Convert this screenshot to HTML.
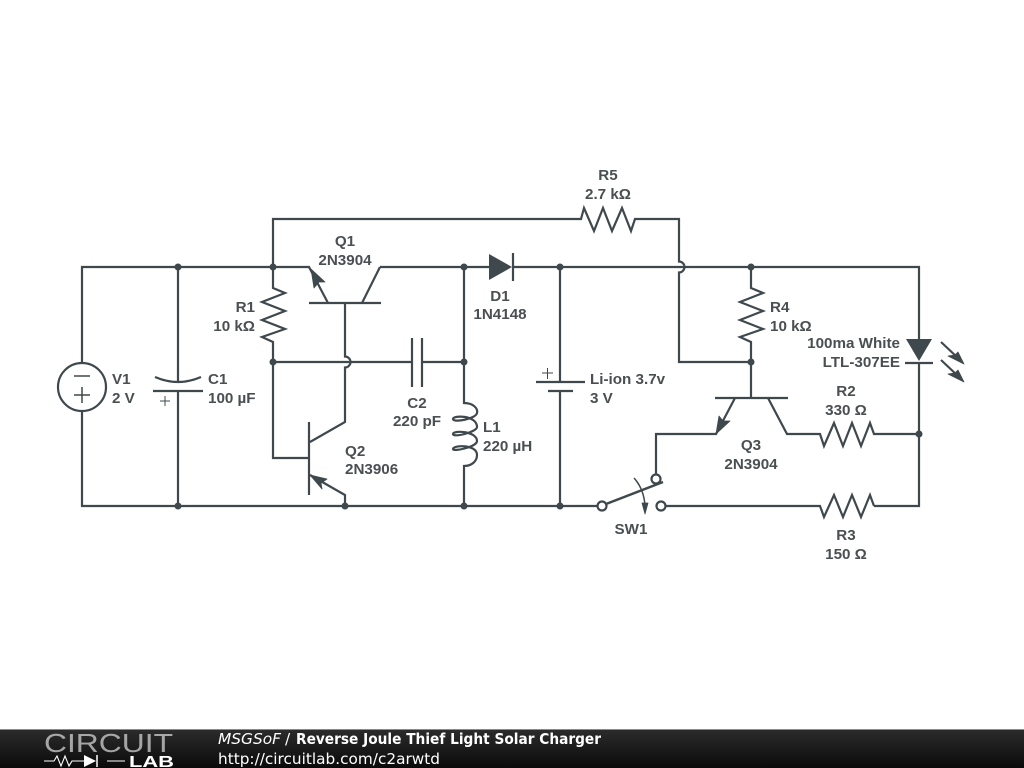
<!DOCTYPE html>
<html><head><meta charset="utf-8"><style>
html,body{margin:0;padding:0;background:#fff;width:1024px;height:768px;overflow:hidden}
svg{display:block}
.w{fill:none;stroke:#3f484c;stroke-width:2.2;stroke-linejoin:miter}
.t{font-family:"Liberation Sans",sans-serif;font-size:15.2px;font-weight:bold;fill:#4a4f52}
.m{text-anchor:middle}.e{text-anchor:end}
.f{font-family:"DejaVu Sans",sans-serif;font-size:15.3px;fill:#fff}
</style></head><body>
<svg width="1024" height="768" viewBox="0 0 1024 768" xmlns="http://www.w3.org/2000/svg">
<defs><linearGradient id="g" x1="0" y1="0" x2="0" y2="1"><stop offset="0" stop-color="#2c2c2c"/><stop offset="1" stop-color="#0a0a0a"/></linearGradient></defs>
<g class="w">
<!-- main rails -->
<path d="M82 363V267H309L328 303"/>
<path d="M82 411V506H598"/>
<path d="M380 267H489M513 267H919V339M919 363V506H874"/>
<!-- C1 -->
<path d="M178 267V383M178 391V506M155 377Q178 387 201 377M153 391H203"/>
<path d="M160 401H170M165 396V406" stroke-width="1"/>
<!-- V1 -->
<circle cx="82" cy="387" r="24"/>
<path d="M74 376H90M74 395H90M82 387V403" stroke-width="1.500"/>
<!-- R1 -->
<path d="M273 267V288L285 293L262 302L285 311L262 320L285 329L262 337L273 342V362"/>
<path d="M273 267V219H581L584 208L594 231L603 208L612 231L622 208L631 231L635 219H679V261.500A5.500 5.500 0 0 1 679 272.500V362H751"/>
<!-- Q1 -->
<path d="M309 303H381M362 303L380 267"/>
<path d="M345 303V356.500A5.500 5.500 0 0 1 345 367.500V422L310 442"/>
<!-- Q2 -->
<path d="M309 422V495M273 362V458H309M310 475L345 495V506"/>
<path d="M273 362H412M422 362H464M412 338V387M422 338V387"/>
<!-- L1 -->
<path d="M464 267V403C474 403 478 409 477 413C476 419 453 423 453 419C453 415 477 415 477 427C477 432 453 438 453 434C453 430 477 431 477 441C477 447 453 452 453 449C453 445 477 444 477 455C477 461 472 466 464 466V506"/>
<!-- D1 -->
<path d="M513 253V281"/>
<!-- Battery -->
<path d="M560 267V382M560 391V506M536 382H585M548 391H573"/>
<path d="M542 373H553M547.500 368V379" stroke-width="1"/>
<!-- SW1 -->
<circle cx="602" cy="506" r="4.500"/><circle cx="661" cy="506" r="4.500"/><circle cx="656" cy="479" r="4.500"/>
<path d="M606 504L663 482" stroke-width="2.500"/>
<path d="M656 474V434H716L735 398M666 506H820L824 517L834 495L843 517L852 495L861 517L870 495L874 506"/>
<path d="M634 478Q644 489 645 506" stroke-width="1.500"/>
<!-- Q3 / R4 -->
<path d="M715 398H788M751 267V288L763 293L740 302L763 311L740 320L763 329L740 337L751 342V398"/>
<path d="M768 398L787 434H820L824 446L834 423L843 446L852 423L861 446L870 423L874 434H919"/>
<!-- LED -->
<path d="M905 363H933M941 342L958 358M941 360L958 376"/>
</g>
<g fill="#3f484c">
<path d="M489 254V280L512 267Z"/>
<path d="M906 339H932L919 361Z"/>
<g stroke="#3f484c" stroke-width="0.800" stroke-linejoin="round">
<path d="M311 269L325 282L319 282L314 288Z"/>
<path d="M310 475L327 479L321 483L322 489Z"/>
<path d="M716 434L719 416L723 421L730 421Z"/>
<path d="M645 514L642 503H648Z"/>
<path d="M964 364L948 356L955 355L958 352Z"/>
<path d="M964 382L948 374L955 373L958 370Z"/>
</g>
<circle cx="178" cy="267" r="3.500"/><circle cx="273" cy="267" r="3.500"/><circle cx="464" cy="267" r="3.500"/><circle cx="560" cy="267" r="3.500"/><circle cx="751" cy="267" r="3.500"/>
<circle cx="178" cy="506" r="3.500"/><circle cx="345" cy="506" r="3.500"/><circle cx="464" cy="506" r="3.500"/><circle cx="560" cy="506" r="3.500"/>
<circle cx="273" cy="362" r="3.500"/><circle cx="464" cy="362" r="3.500"/><circle cx="751" cy="362" r="3.500"/><circle cx="919" cy="434" r="3.500"/>
</g>
<g class="t">
<text class="m" x="345" y="246">Q1</text><text class="m" x="345" y="265">2N3904</text>
<text class="e" x="255" y="312">R1</text><text class="e" x="255" y="331">10 kΩ</text>
<text x="112" y="384">V1</text><text x="112" y="403">2 V</text>
<text x="208" y="384">C1</text><text x="208" y="403">100 µF</text>
<text x="345" y="456">Q2</text><text x="345" y="474">2N3906</text>
<text class="m" x="500" y="301">D1</text><text class="m" x="500" y="319">1N4148</text>
<text class="m" x="417" y="408">C2</text><text class="m" x="417" y="426">220 pF</text>
<text x="483" y="432">L1</text><text x="483" y="451">220 µH</text>
<text x="590" y="384">Li-ion 3.7v</text><text x="590" y="403">3 V</text>
<text class="m" x="631" y="534">SW1</text>
<text x="770" y="312">R4</text><text x="770" y="331">10 kΩ</text>
<text class="e" x="900" y="348">100ma White</text><text class="e" x="900" y="367">LTL-307EE</text>
<text class="m" x="846" y="396">R2</text><text class="m" x="846" y="415">330 Ω</text>
<text class="m" x="751" y="450">Q3</text><text class="m" x="751" y="469">2N3904</text>
<text class="m" x="846" y="540">R3</text><text class="m" x="846" y="559">150 Ω</text>
<text class="m" x="608" y="180">R5</text><text class="m" x="608" y="199">2.7 kΩ</text>
</g>
<!-- footer -->
<rect x="0" y="729" width="1024" height="39" fill="url(#g)"/>
<rect x="0" y="729" width="1024" height="1" fill="#8a8a8a"/>
<text x="44" y="752" font-family="'Liberation Sans',sans-serif" font-size="26" fill="#fff" fill-opacity="0.6" textLength="129" lengthAdjust="spacingAndGlyphs">CIRCUIT</text>
<text x="129" y="767" font-family="'Liberation Sans',sans-serif" font-size="16" font-weight="bold" fill="#fff" textLength="45" lengthAdjust="spacingAndGlyphs">LAB</text>
<path d="M44 761H54L57 756L61 766L65 756L69 766L72 761H84M107 761H125" fill="none" stroke="#fff" stroke-width="1.100"/>
<path d="M84 755V767L96 761Z" fill="#fff"/><path d="M97 755V767" stroke="#fff" stroke-width="1.500"/>
<text class="f" x="218" y="744" font-style="italic" textLength="63" lengthAdjust="spacingAndGlyphs">MSGSoF</text>
<text class="f" x="285" y="744">/</text>
<text class="f" x="296" y="744" font-weight="bold" textLength="305" lengthAdjust="spacingAndGlyphs">Reverse Joule Thief Light Solar Charger</text>
<text class="f" x="218" y="764" textLength="222">http://circuitlab.com/c2arwtd</text>
</svg>
</body></html>
